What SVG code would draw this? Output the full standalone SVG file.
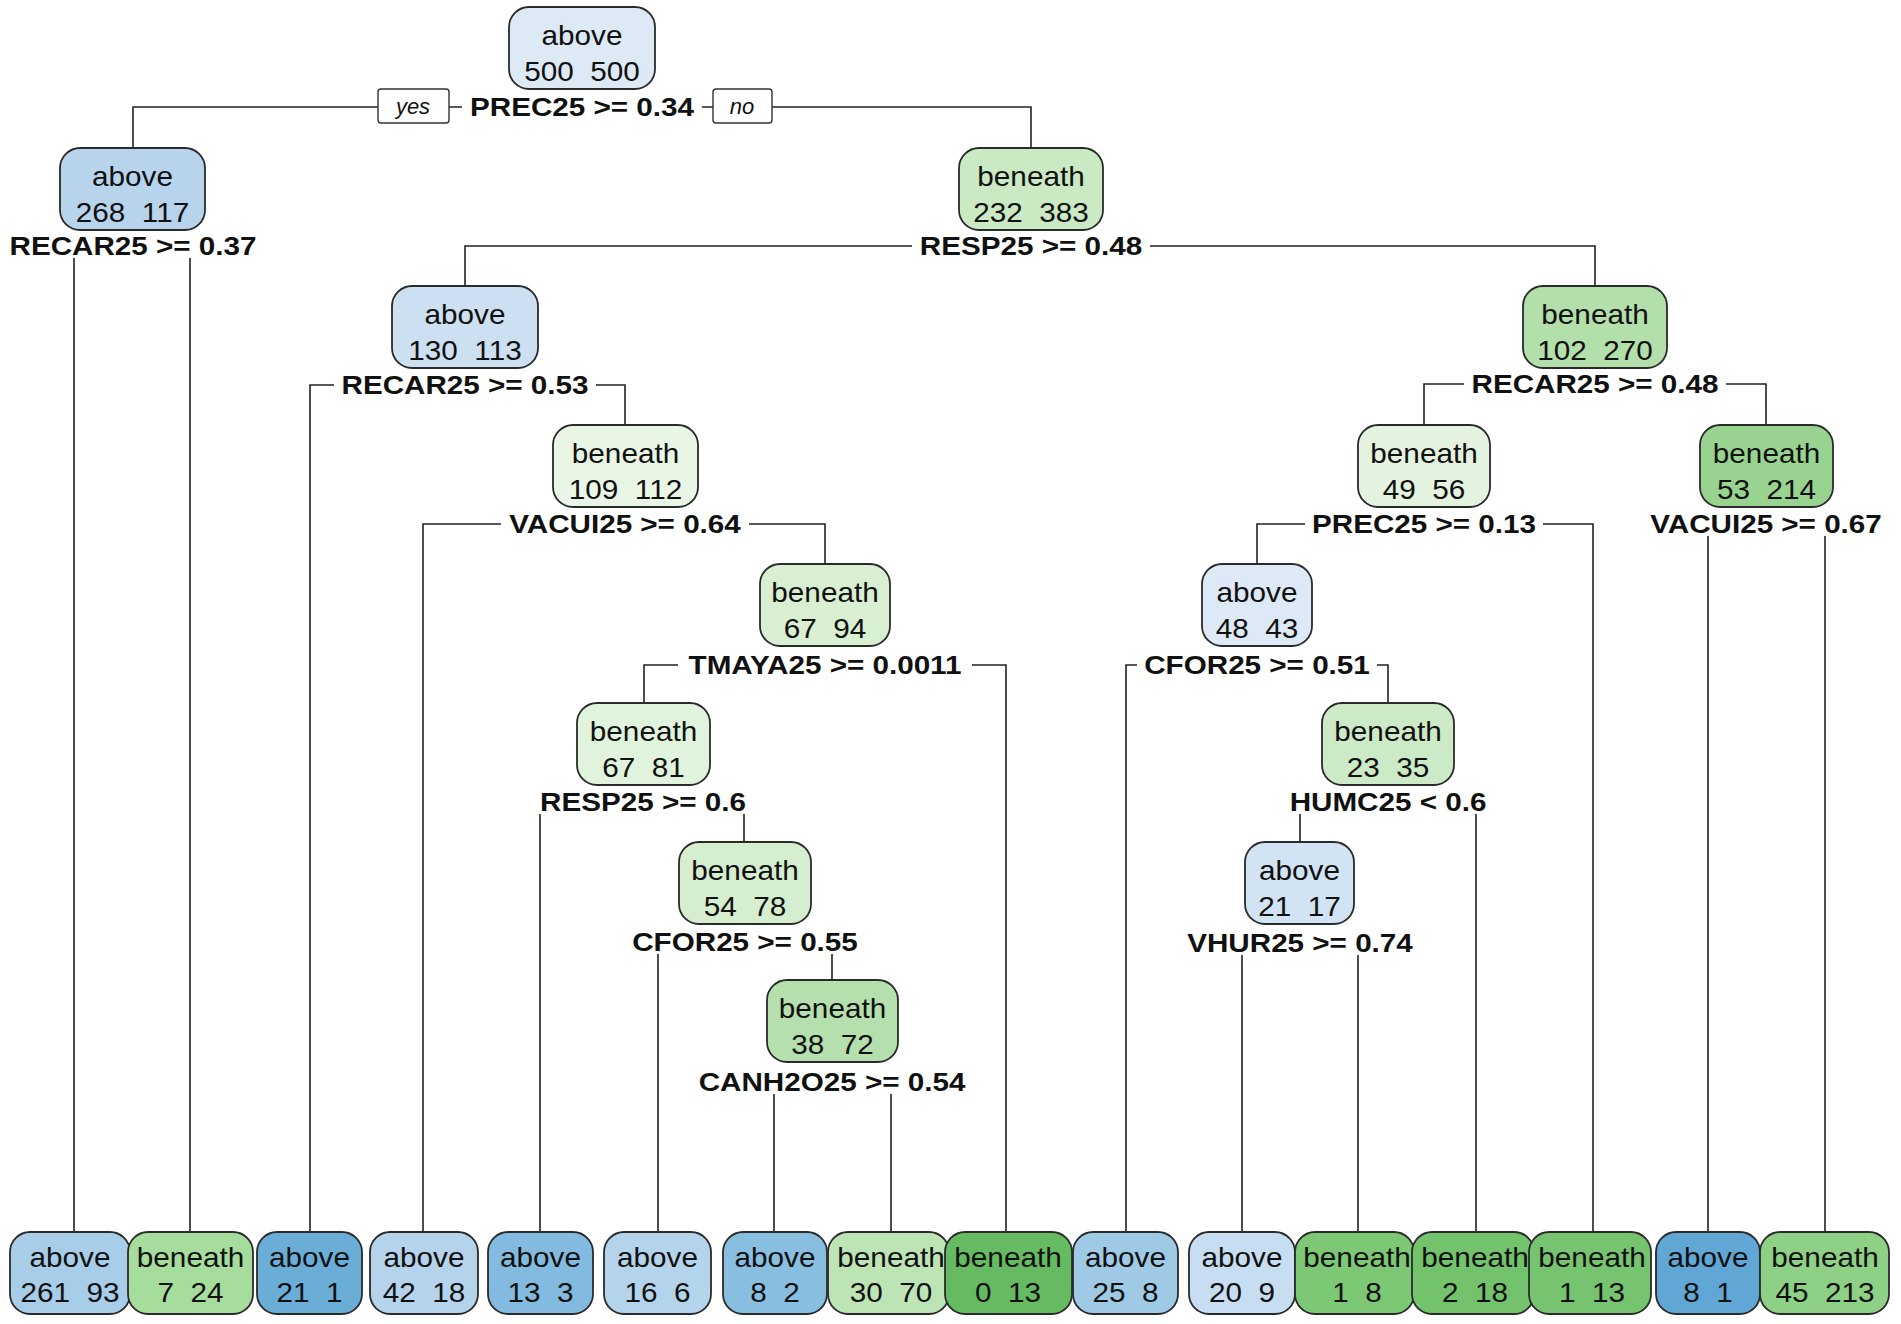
<svg xmlns="http://www.w3.org/2000/svg" width="1901" height="1324" viewBox="0 0 1901 1324">
<style>
.box{stroke:#2a2a2a;stroke-width:1.8}
.t{font-family:"Liberation Sans",Arial,sans-serif;font-size:27px;text-anchor:middle;white-space:pre;fill:#111}
.s{font-weight:bold;font-size:26px}
.conn{fill:none;stroke:#222;stroke-width:1.6}
.bg{fill:#fff}
.yn{fill:#fff;stroke:#333;stroke-width:1.4}
.yt{font-family:"Liberation Sans",Arial,sans-serif;font-size:22px;font-style:italic;text-anchor:middle;fill:#111}
</style>
<rect width="1901" height="1324" fill="#fff"/>
<g id="connectors">
<path class="conn" d="M133,148 V107 H1031 V148"/>
<path class="conn" d="M74,1232 V246 H190 V1232"/>
<path class="conn" d="M465,286 V246 H1595 V286"/>
<path class="conn" d="M310,1232 V385 H625 V425"/>
<path class="conn" d="M1424,425 V384 H1766 V425"/>
<path class="conn" d="M423,1232 V524 H825 V564"/>
<path class="conn" d="M1257,564 V524 H1593 V1232"/>
<path class="conn" d="M1708,1232 V524 H1825 V1232"/>
<path class="conn" d="M644,703 V665 H1006 V1232"/>
<path class="conn" d="M1126,1232 V665 H1388 V703"/>
<path class="conn" d="M540,1232 V802 H744 V842"/>
<path class="conn" d="M1300,842 V802 H1476 V1232"/>
<path class="conn" d="M658,1232 V942 H832 V980"/>
<path class="conn" d="M1242,1232 V943 H1358 V1232"/>
<path class="conn" d="M774,1232 V1082 H891 V1232"/>
<rect class="yn" x="378" y="89" width="71" height="34" rx="3"/>
<text class="yt" x="413" y="114">yes</text>
<rect class="yn" x="713" y="89" width="59" height="34" rx="3"/>
<text class="yt" x="742" y="114">no</text>
</g>
<g id="n1">
<rect class="box" x="509" y="7" width="146" height="82" rx="20" fill="#dde9f5"/>
<text class="t" transform="translate(582 45) scale(1.1 1)">above</text>
<text class="t" transform="translate(582 81) scale(1.1 1)">500  500</text>
<rect class="bg" x="462" y="95" width="240" height="24"/>
<text class="t s" transform="translate(582 116) scale(1.14 1)">PREC25 &gt;= 0.34</text>
</g>
<g id="n2">
<rect class="box" x="60" y="148" width="145" height="82" rx="20" fill="#b8d4ed"/>
<text class="t" transform="translate(132.5 186) scale(1.1 1)">above</text>
<text class="t" transform="translate(132.5 222) scale(1.1 1)">268  117</text>
<rect class="bg" x="3" y="234" width="260" height="24"/>
<text class="t s" transform="translate(133 255) scale(1.14 1)">RECAR25 &gt;= 0.37</text>
</g>
<g id="n3">
<rect class="box" x="959" y="148" width="144" height="82" rx="20" fill="#c9eac3"/>
<text class="t" transform="translate(1031 186) scale(1.1 1)">beneath</text>
<text class="t" transform="translate(1031 222) scale(1.1 1)">232  383</text>
<rect class="bg" x="912" y="234" width="238" height="24"/>
<text class="t s" transform="translate(1031 255) scale(1.14 1)">RESP25 &gt;= 0.48</text>
</g>
<g id="n4">
<rect class="box" x="392" y="286" width="146" height="82" rx="20" fill="#cde0f1"/>
<text class="t" transform="translate(465 324) scale(1.1 1)">above</text>
<text class="t" transform="translate(465 360) scale(1.1 1)">130  113</text>
<rect class="bg" x="334" y="373" width="262" height="24"/>
<text class="t s" transform="translate(465 394) scale(1.14 1)">RECAR25 &gt;= 0.53</text>
</g>
<g id="n5">
<rect class="box" x="1523" y="286" width="144" height="82" rx="20" fill="#b2dfaa"/>
<text class="t" transform="translate(1595 324) scale(1.1 1)">beneath</text>
<text class="t" transform="translate(1595 360) scale(1.1 1)">102  270</text>
<rect class="bg" x="1464" y="372" width="262" height="24"/>
<text class="t s" transform="translate(1595 393) scale(1.14 1)">RECAR25 &gt;= 0.48</text>
</g>
<g id="n6">
<rect class="box" x="553" y="425" width="145" height="82" rx="20" fill="#e9f6e6"/>
<text class="t" transform="translate(625.5 463) scale(1.1 1)">beneath</text>
<text class="t" transform="translate(625.5 499) scale(1.1 1)">109  112</text>
<rect class="bg" x="501" y="512" width="248" height="24"/>
<text class="t s" transform="translate(625 533) scale(1.14 1)">VACUI25 &gt;= 0.64</text>
</g>
<g id="n7">
<rect class="box" x="1358" y="425" width="132" height="82" rx="20" fill="#e3f3df"/>
<text class="t" transform="translate(1424 463) scale(1.1 1)">beneath</text>
<text class="t" transform="translate(1424 499) scale(1.1 1)">49  56</text>
<rect class="bg" x="1305" y="512" width="238" height="24"/>
<text class="t s" transform="translate(1424 533) scale(1.14 1)">PREC25 &gt;= 0.13</text>
</g>
<g id="n8">
<rect class="box" x="1700" y="425" width="133" height="82" rx="20" fill="#98d490"/>
<text class="t" transform="translate(1766.5 463) scale(1.1 1)">beneath</text>
<text class="t" transform="translate(1766.5 499) scale(1.1 1)">53  214</text>
<rect class="bg" x="1642" y="512" width="248" height="24"/>
<text class="t s" transform="translate(1766 533) scale(1.14 1)">VACUI25 &gt;= 0.67</text>
</g>
<g id="n9">
<rect class="box" x="760" y="564" width="130" height="82" rx="20" fill="#d8efd2"/>
<text class="t" transform="translate(825 602) scale(1.1 1)">beneath</text>
<text class="t" transform="translate(825 638) scale(1.1 1)">67  94</text>
<rect class="bg" x="678" y="653" width="294" height="24"/>
<text class="t s" transform="translate(825 674) scale(1.14 1)">TMAYA25 &gt;= 0.0011</text>
</g>
<g id="n10">
<rect class="box" x="1202" y="564" width="110" height="82" rx="20" fill="#dde9f6"/>
<text class="t" transform="translate(1257 602) scale(1.1 1)">above</text>
<text class="t" transform="translate(1257 638) scale(1.1 1)">48  43</text>
<rect class="bg" x="1137" y="653" width="240" height="24"/>
<text class="t s" transform="translate(1257 674) scale(1.14 1)">CFOR25 &gt;= 0.51</text>
</g>
<g id="n11">
<rect class="box" x="577" y="703" width="133" height="82" rx="20" fill="#e0f3dc"/>
<text class="t" transform="translate(643.5 741) scale(1.1 1)">beneath</text>
<text class="t" transform="translate(643.5 777) scale(1.1 1)">67  81</text>
<rect class="bg" x="533" y="790" width="220" height="24"/>
<text class="t s" transform="translate(643 811) scale(1.14 1)">RESP25 &gt;= 0.6</text>
</g>
<g id="n12">
<rect class="box" x="1322" y="703" width="132" height="82" rx="20" fill="#cdeac6"/>
<text class="t" transform="translate(1388 741) scale(1.1 1)">beneath</text>
<text class="t" transform="translate(1388 777) scale(1.1 1)">23  35</text>
<rect class="bg" x="1283" y="790" width="210" height="24"/>
<text class="t s" transform="translate(1388 811) scale(1.14 1)">HUMC25 &lt; 0.6</text>
</g>
<g id="n13">
<rect class="box" x="679" y="842" width="132" height="82" rx="20" fill="#d5eecf"/>
<text class="t" transform="translate(745 880) scale(1.1 1)">beneath</text>
<text class="t" transform="translate(745 916) scale(1.1 1)">54  78</text>
<rect class="bg" x="625" y="930" width="240" height="24"/>
<text class="t s" transform="translate(745 951) scale(1.14 1)">CFOR25 &gt;= 0.55</text>
</g>
<g id="n14">
<rect class="box" x="1245" y="842" width="109" height="82" rx="20" fill="#d2e3f3"/>
<text class="t" transform="translate(1299.5 880) scale(1.1 1)">above</text>
<text class="t" transform="translate(1299.5 916) scale(1.1 1)">21  17</text>
<rect class="bg" x="1180" y="931" width="240" height="24"/>
<text class="t s" transform="translate(1300 952) scale(1.14 1)">VHUR25 &gt;= 0.74</text>
</g>
<g id="n15">
<rect class="box" x="767" y="980" width="131" height="82" rx="20" fill="#b5e0ad"/>
<text class="t" transform="translate(832.5 1018) scale(1.1 1)">beneath</text>
<text class="t" transform="translate(832.5 1054) scale(1.1 1)">38  72</text>
<rect class="bg" x="692" y="1070" width="281" height="24"/>
<text class="t s" transform="translate(832 1091) scale(1.14 1)">CANH2O25 &gt;= 0.54</text>
</g>
<g id="L1">
<rect class="box" x="10" y="1232" width="120" height="82" rx="20" fill="#a7cde9"/>
<text class="t" transform="translate(70 1267) scale(1.1 1)">above</text>
<text class="t" transform="translate(70 1302) scale(1.1 1)">261  93</text>
</g>
<g id="L2">
<rect class="box" x="128" y="1232" width="125" height="82" rx="20" fill="#a6dc9c"/>
<text class="t" transform="translate(190.5 1267) scale(1.1 1)">beneath</text>
<text class="t" transform="translate(190.5 1302) scale(1.1 1)">7  24</text>
</g>
<g id="L3">
<rect class="box" x="257" y="1232" width="105" height="82" rx="20" fill="#6aaed8"/>
<text class="t" transform="translate(309.5 1267) scale(1.1 1)">above</text>
<text class="t" transform="translate(309.5 1302) scale(1.1 1)">21  1</text>
</g>
<g id="L4">
<rect class="box" x="370" y="1232" width="108" height="82" rx="20" fill="#b5d4ec"/>
<text class="t" transform="translate(424 1267) scale(1.1 1)">above</text>
<text class="t" transform="translate(424 1302) scale(1.1 1)">42  18</text>
</g>
<g id="L5">
<rect class="box" x="488" y="1232" width="105" height="82" rx="20" fill="#82bbdf"/>
<text class="t" transform="translate(540.5 1267) scale(1.1 1)">above</text>
<text class="t" transform="translate(540.5 1302) scale(1.1 1)">13  3</text>
</g>
<g id="L6">
<rect class="box" x="604" y="1232" width="107" height="82" rx="20" fill="#b4d4ec"/>
<text class="t" transform="translate(657.5 1267) scale(1.1 1)">above</text>
<text class="t" transform="translate(657.5 1302) scale(1.1 1)">16  6</text>
</g>
<g id="L7">
<rect class="box" x="723" y="1232" width="104" height="82" rx="20" fill="#88bfe0"/>
<text class="t" transform="translate(775 1267) scale(1.1 1)">above</text>
<text class="t" transform="translate(775 1302) scale(1.1 1)">8  2</text>
</g>
<g id="L8">
<rect class="box" x="828" y="1232" width="121" height="82" rx="20" fill="#bde4b5"/>
<text class="t" transform="translate(891 1267) scale(1.1 1)">beneath</text>
<text class="t" transform="translate(891 1302) scale(1.1 1)">30  70</text>
</g>
<g id="L9">
<rect class="box" x="945" y="1232" width="127" height="82" rx="20" fill="#66bb62"/>
<text class="t" transform="translate(1008 1267) scale(1.1 1)">beneath</text>
<text class="t" transform="translate(1008 1302) scale(1.1 1)">0  13</text>
</g>
<g id="L10">
<rect class="box" x="1073" y="1232" width="105" height="82" rx="20" fill="#9ecae6"/>
<text class="t" transform="translate(1125.5 1267) scale(1.1 1)">above</text>
<text class="t" transform="translate(1125.5 1302) scale(1.1 1)">25  8</text>
</g>
<g id="L11">
<rect class="box" x="1189" y="1232" width="106" height="82" rx="20" fill="#c7ddf1"/>
<text class="t" transform="translate(1242 1267) scale(1.1 1)">above</text>
<text class="t" transform="translate(1242 1302) scale(1.1 1)">20  9</text>
</g>
<g id="L12">
<rect class="box" x="1295" y="1232" width="119" height="82" rx="20" fill="#7cc874"/>
<text class="t" transform="translate(1357 1267) scale(1.1 1)">beneath</text>
<text class="t" transform="translate(1357 1302) scale(1.1 1)">1  8</text>
</g>
<g id="L13">
<rect class="box" x="1412" y="1232" width="122" height="82" rx="20" fill="#72c36b"/>
<text class="t" transform="translate(1475 1267) scale(1.1 1)">beneath</text>
<text class="t" transform="translate(1475 1302) scale(1.1 1)">2  18</text>
</g>
<g id="L14">
<rect class="box" x="1529" y="1232" width="122" height="82" rx="20" fill="#76c46f"/>
<text class="t" transform="translate(1592 1267) scale(1.1 1)">beneath</text>
<text class="t" transform="translate(1592 1302) scale(1.1 1)">1  13</text>
</g>
<g id="L15">
<rect class="box" x="1656" y="1232" width="104" height="82" rx="20" fill="#60a7d5"/>
<text class="t" transform="translate(1708 1267) scale(1.1 1)">above</text>
<text class="t" transform="translate(1708 1302) scale(1.1 1)">8  1</text>
</g>
<g id="L16">
<rect class="box" x="1760" y="1232" width="129" height="82" rx="20" fill="#8ed086"/>
<text class="t" transform="translate(1825 1267) scale(1.1 1)">beneath</text>
<text class="t" transform="translate(1825 1302) scale(1.1 1)">45  213</text>
</g>
</svg>
